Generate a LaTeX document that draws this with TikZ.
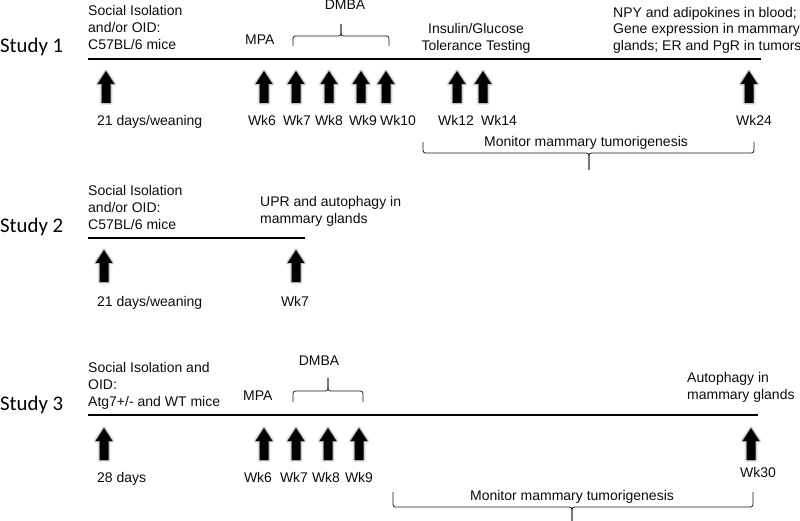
\documentclass[tikz,border=0pt]{standalone}
\usepackage{fontspec}
\setmainfont{Liberation Sans}
\newfontfamily\studyfont{Carlito}
\newcommand\tlbrace[6]{%
  \draw[br] (#1,#5) |- (#3,#4) -- (#3,#6);
  \draw[br] (#2,#5) |- (#3,#4) -- (#3,#6);}
\begin{document}
\begin{tikzpicture}[x=1pt,y=-1pt,
  txt/.style={font=\fontsize{14}{17}\selectfont, inner sep=0pt, text=black!95},
  lbl/.style={txt, anchor=base},
  lblw/.style={txt, anchor=base west},
  blk/.style={txt, anchor=north west, align=left},
  study/.style={font=\studyfont\fontsize{20.8}{24}\selectfont, inner sep=0pt, anchor=base west, text=black},
  tl/.style={line width=1.8pt, black},
  br/.style={line width=0.8pt, black!90, rounded corners=2.5pt},
  blockup/.pic={
    \draw[black!35, line width=4pt, opacity=0.25, line join=round]
      (0,0) -- (8.5,13) -- (4.5,13) -- (4.5,32) -- (-4.5,32) -- (-4.5,13) -- (-8.5,13) -- cycle;
    \draw[black!50, line width=2pt, opacity=0.35, line join=round]
      (0,0) -- (8.5,13) -- (4.5,13) -- (4.5,32) -- (-4.5,32) -- (-4.5,13) -- (-8.5,13) -- cycle;
    \fill[black]
      (0,0) -- (8.5,13) -- (4.5,13) -- (4.5,32) -- (-4.5,32) -- (-4.5,13) -- (-8.5,13) -- cycle;
  }
]
\useasboundingbox[fill=white] (0,0) rectangle (800,521);

% ---------------- Study 1 ----------------
\node[study] (st1) at (0,53) {Study 1};
\node[blk] (s1cond) at (88,5) {Social Isolation\\and/or OID:\\C57BL/6 mice};
\node[lblw] (s1mpa) at (245,45) {MPA};
\node[lbl] (s1dmba) at (345,10) {DMBA};
\node[txt, anchor=north, align=center] (s1igt) at (476,23) {Insulin/Glucose\\Tolerance Testing};
\node[blk, font=\fontsize{14}{16.5}\selectfont] (s1npy) at (613,7) {NPY and adipokines in blood;\\Gene expression in mammary\\glands; ER and PgR in tumors};
\coordinate (s1l) at (88,59);
\coordinate (s1r) at (761,59);
\draw[tl] (s1l) -- (s1r);
\tlbrace{293}{389}{341}{36}{46}{24}
\foreach \x in {106,264,296,329,361,386,457,483,749} \pic at (\x,71) {blockup};
\node[lblw] (s1d21) at (97,126) {21 days/weaning};
\node[lbl] (s1w6) at (262,126) {Wk6};
\node[lbl] (s1w7) at (297,126) {Wk7};
\node[lbl] (s1w8) at (329,126) {Wk8};
\node[lbl] (s1w9) at (363,126) {Wk9};
\node[lbl] (s1w10) at (398,126) {Wk10};
\node[lbl] (s1w12) at (456,126) {Wk12};
\node[lbl] (s1w14) at (499,126) {Wk14};
\node[lbl] (s1w24) at (754,126) {Wk24};
\tlbrace{423}{754}{589}{153}{142}{170}
\node[lbl] (s1mon) at (586,147) {Monitor mammary tumorigenesis};

% ---------------- Study 2 ----------------
\node[study] (st2) at (0,233) {Study 2};
\node[blk] (s2cond) at (88,185) {Social Isolation\\and/or OID:\\C57BL/6 mice};
\node[blk] (s2upr) at (260,196) {UPR and autophagy in\\mammary glands};
\coordinate (s2l) at (88,238);
\coordinate (s2r) at (305,238);
\draw[tl] (s2l) -- (s2r);
\foreach \x in {104,296} \pic at (\x,250) {blockup};
\node[lblw] (s2d21) at (97,306) {21 days/weaning};
\node[lbl] (s2w7) at (295,306) {Wk7};

% ---------------- Study 3 ----------------
\node[study] (st3) at (0,410) {Study 3};
\node[blk] (s3cond) at (88,362) {Social Isolation and\\OID:\\Atg7+/- and WT mice};
\node[lblw] (s3mpa) at (243,400) {MPA};
\node[lbl] (s3dmba) at (319,365) {DMBA};
\node[blk] (s3aut) at (687,372) {Autophagy in\\mammary glands};
\coordinate (s3l) at (88,415);
\coordinate (s3r) at (758,415);
\draw[tl] (s3l) -- (s3r);
\tlbrace{293}{363}{328}{391}{402}{378}
\foreach \x in {104,264,296,328,359,751} \pic at (\x,428) {blockup};
\node[lblw] (s3d28) at (97,482) {28 days};
\node[lbl] (s3w6) at (258,482) {Wk6};
\node[lbl] (s3w7) at (294,482) {Wk7};
\node[lbl] (s3w8) at (326,482) {Wk8};
\node[lbl] (s3w9) at (359,482) {Wk9};
\node[lbl] (s3w30) at (758,477) {Wk30};
\tlbrace{393}{753}{572}{507}{492}{521}
\node[lbl] (s3mon) at (572,500) {Monitor mammary tumorigenesis};
\end{tikzpicture}
\end{document}
